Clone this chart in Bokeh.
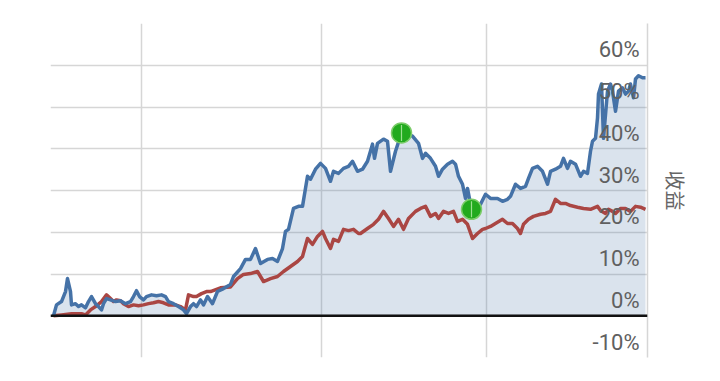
from bokeh.plotting import figure
from bokeh.models import Range1d, FixedTicker, Span
from bokeh.core.properties import value
from bokeh.embed import file_html
from bokeh.resources import INLINE
import numpy as np

# ---- data (day index, cumulative return %) ----
blue_x = [1, 4, 9, 13, 15, 18, 19, 23, 26, 29, 33, 36, 39, 43, 46, 49, 51, 54, 58, 63, 68, 73, 78, 81, 84, 87,
          91, 94, 99, 104, 109, 113, 116, 121, 126, 131, 134, 138, 141, 144, 148, 151, 155, 160, 165, 171, 178,
          181, 188, 193, 198, 203, 208, 215, 220, 225, 230, 233, 236, 241, 246, 250, 255, 258, 263, 268, 273,
          278, 281, 286, 291, 296, 300, 305, 310, 315, 320, 322, 325, 331, 335, 338, 343, 349, 355, 360, 366,
          370, 373, 378, 383, 386, 390, 395, 400, 403, 406, 410, 413, 415, 419, 423, 428, 433, 438, 445, 450,
          455, 458, 463, 468, 473, 476, 480, 485, 490, 495, 498, 503, 508, 511, 515, 518, 523, 528, 531, 535,
          538, 540, 543, 545, 546, 549, 551, 555, 558, 560, 563, 566, 570, 573, 576, 578, 581, 583, 586, 590, 593]
blue_y = [0, 2.6, 3.4, 5.8, 8.9, 5.8, 2.6, 2.9, 2.2, 2.6, 1.9, 3.4, 4.6, 2.9, 2.2, 1.4, 2.9, 4.1, 3.8, 3.4, 3.6,
          2.9, 3.4, 4.6, 6.0, 4.6, 3.8, 4.6, 5.0, 4.8, 5.0, 4.6, 3.4, 2.9, 2.2, 1.4, 0.5, 2.2, 2.9, 2.2, 3.8,
          2.6, 4.6, 2.9, 5.8, 6.5, 7.5, 9.4, 11.3, 13.5, 13.5, 16.1, 12.5, 13.5, 13.7, 13.0, 16.1, 20.2, 20.7,
          25.7, 26.2, 26.2, 33.4, 32.7, 35.1, 36.5, 35.3, 32.2, 34.6, 34.1, 35.3, 35.8, 37.0, 34.6, 35.1, 37.0,
          41.1, 37.7, 41.3, 42.3, 41.8, 34.6, 39.4, 43.8, 43.5, 43.0, 41.3, 37.7, 38.9, 37.7, 35.8, 33.4, 35.1,
          36.3, 37.0, 36.3, 33.4, 31.5, 28.1, 30.5, 25.5, 26.2, 26.7, 29.1, 28.1, 28.1, 27.4, 27.9, 28.6, 31.5,
          30.5, 31.0, 32.9, 35.3, 35.8, 34.6, 31.5, 34.6, 35.1, 35.8, 37.7, 35.3, 37.0, 36.3, 33.4, 34.6, 34.1,
          39.4, 41.8, 42.5, 47.4, 53.1, 55.5, 42.5, 53.8, 55.5, 53.8, 49.0, 53.8, 54.6, 53.1, 53.8, 55.5, 52.2,
          56.7, 57.5, 57.0, 57.0]

red_x = [1, 9, 19, 29, 33, 38, 43, 49, 54, 58, 61, 64, 68, 71, 76, 81, 86, 91, 96, 101, 106, 111, 116, 123,
         128, 133, 136, 141, 144, 149, 154, 158, 168, 178, 185, 191, 198, 205, 211, 218, 225, 231, 238, 245,
         250, 255, 260, 265, 270, 273, 278, 281, 286, 291, 296, 301, 306, 308, 315, 321, 326, 331, 336, 341,
         346, 351, 356, 363, 368, 373, 378, 383, 386, 391, 396, 401, 405, 410, 415, 420, 425, 430, 433, 438,
         445, 450, 455, 460, 465, 468, 471, 476, 481, 488, 493, 498, 503, 508, 513, 518, 525, 531, 538, 545,
         548, 553, 556, 560, 563, 568, 573, 578, 583, 588, 593]
red_y = [0, 0.2, 0.5, 0.5, 0.2, 1.4, 2.2, 3.4, 5.0, 4.1, 3.4, 3.8, 3.6, 2.9, 2.2, 2.6, 2.4, 2.6, 2.9, 3.1, 3.4,
         3.1, 2.6, 2.6, 2.2, 1.4, 5.0, 4.6, 4.6, 5.3, 5.8, 5.8, 6.7, 6.9, 8.9, 9.9, 10.1, 10.6, 8.2, 8.9, 9.4,
         10.6, 11.8, 13.0, 14.2, 18.5, 17.1, 19.0, 20.2, 18.5, 16.1, 18.3, 17.8, 20.7, 20.4, 20.7, 19.7, 19.7,
         20.9, 21.9, 23.1, 25.0, 23.3, 21.4, 23.1, 20.7, 23.3, 25.0, 25.7, 26.2, 23.8, 24.5, 23.3, 25.0, 24.5,
         25.0, 22.6, 23.1, 21.9, 18.5, 19.7, 20.7, 20.9, 21.4, 22.4, 23.1, 22.1, 22.1, 20.9, 19.7, 21.9, 23.1,
         23.8, 24.3, 24.5, 25.0, 27.9, 26.9, 26.9, 26.4, 26.0, 25.7, 25.5, 26.2, 25.2, 24.5, 25.5, 25.0, 24.5,
         25.7, 25.7, 25.0, 26.2, 26.0, 25.5]

flag_days = [349, 419]          # drawdown start / end markers (on blue series)
x_grid_days = [89, 269, 434]
y_ticks = [-10, 0, 10, 20, 30, 40, 50, 60]
y_tick_labels = ["-10%", "0%", "10%", "20%", "30%", "40%", "50%", "60%"]
y_grid_vals = [-10, 0, 10, 20, 30, 40, 50, 60, 70]
axis_title = "收益"

X_START, X_END = -2, 595
Y_START, Y_END = -10, 70

p = figure(width=710, height=372, output_backend="svg", toolbar_location=None,
           x_range=Range1d(X_START, X_END), y_range=Range1d(Y_START, Y_END),
           y_axis_location="right", min_border_left=50, min_border_right=63,
           min_border_top=23, min_border_bottom=15)
p.background_fill_color = "white"
p.border_fill_color = "white"
p.outline_line_color = None

p.xaxis.visible = False
p.xgrid.ticker = FixedTicker(ticks=x_grid_days)
p.ygrid.ticker = FixedTicker(ticks=y_grid_vals)
for g in (p.xgrid, p.ygrid):
    g.grid_line_color = "#d6d6d6"
    g.grid_line_width = 1.5

ax = p.yaxis[0]
ax.ticker = FixedTicker(ticks=[])
ax.major_tick_line_color = None
ax.minor_tick_line_color = None
ax.major_tick_out = 0
ax.axis_line_color = "#d6d6d6"
ax.axis_line_width = 1.5
ax.axis_label = axis_title
ax.axis_label_text_font = "Noto Sans CJK SC"
ax.axis_label_text_font_style = "normal"
ax.axis_label_text_font_size = "20px"
ax.axis_label_text_color = "#666666"
ax.axis_label_standoff = 13

# area under the strategy line
p.varea(x=blue_x, y1=[0] * len(blue_x), y2=blue_y, fill_color="#4572A7", fill_alpha=0.2)

# zero line
p.add_layout(Span(location=0, dimension="width", line_color="#111111", line_width=2.5))

p.line(red_x, red_y, line_color="#AA4643", line_width=3.5, line_join="round")
p.line(blue_x, blue_y, line_color="#4572A7", line_width=3.5, line_join="round")

# tick labels inside the plot, right-aligned above each grid line
p.text(x=[X_END] * len(y_ticks), y=y_ticks, text=y_tick_labels,
       x_offset=-8, y_offset=-3, text_align="right", text_baseline="bottom",
       text_font=value("Roboto"), text_font_size="22px", text_color="#606060")

# markers
fx = flag_days
fy = [blue_y[blue_x.index(d)] for d in flag_days]
p.scatter(fx, fy, size=20, marker="circle", fill_color="#22aa1e", line_color="#7ccc6a", line_width=1.5)
p.scatter(fx, fy, size=16, marker="dash", angle=np.pi / 2, line_color="#9be08f", line_width=1.2)

open("out.html", "w").write(file_html(p, INLINE))
